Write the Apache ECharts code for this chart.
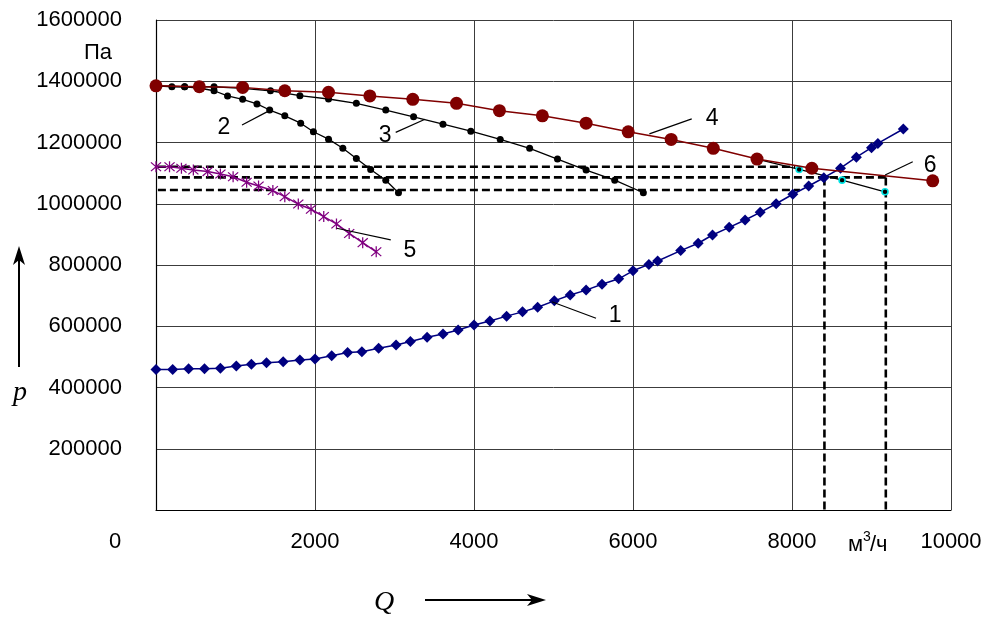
<!DOCTYPE html>
<html><head><meta charset="utf-8">
<script src="https://cdn.jsdelivr.net/npm/echarts@6.0.0/dist/echarts.min.js"></script>
<style>html,body{margin:0;padding:0;background:#fff}#c{width:986px;height:620px}</style>
</head><body><div id="c"></div>
<script>
// ---- data (Q in m3/h, p in Pa) ----
const xTicks = [0, 2000, 4000, 6000, 8000, 10000];
const yTicks = [0, 200000, 400000, 600000, 800000, 1000000, 1200000, 1400000, 1600000];

const Q1 = [0,210,410,610,810,1010,1200,1390,1600,1810,2000,2210,2410,2590,2800,3020,3200,3410,3610,3800,4000,4200,4410,4610,4800,5010,5210,5410,5610,5820,6000,6200,6310,6600,6820,7000,7210,7410,7600,7800,8010,8210,8400,8610,8810,9000,9080,9400];
const P1 = [459,459,461,461,463,470,476,481,484,490,493,504,514,517,528,539,550,564,575,588,604,617,633,647,662,683,702,718,737,755,781,802,813,847,871,898,923,947,972,1000,1031,1058,1085,1116,1152,1183,1197,1244].map(v=>v*1000);

const Q2 = [0,200,360,540,730,900,1090,1270,1430,1620,1820,1980,2170,2350,2520,2700,2890,3050];
const P2 = [1385,1382,1382,1378,1369,1352,1341,1326,1306,1287,1263,1235,1211,1181,1148,1112,1077,1036].map(v=>v*1000);

const Q3 = [0,360,730,1090,1440,1810,2170,2520,2890,3240,3610,3960,4330,4700,5050,5410,5770,6130];
const P3 = [1385,1382,1382,1377,1369,1353,1342,1328,1306,1284,1260,1237,1210,1181,1146,1110,1077,1036].map(v=>v*1000);

const Q4 = [0,545,1090,1620,2170,2690,3230,3780,4320,4860,5410,5940,6480,7010,7560,8250,9770];
const P4 = [1385,1382,1380,1369,1364,1352,1341,1328,1304,1287,1263,1235,1210,1181,1146,1116,1075].map(v=>v*1000);

const Q5 = [0,170,320,470,650,810,970,1140,1290,1470,1620,1790,1950,2110,2270,2430,2600,2770];
const P5 = [1121,1121,1116,1110,1105,1097,1088,1070,1058,1043,1023,999,982,958,934,903,873,843].map(v=>v*1000);

const Q6 = [7560,8090,8630,9170];
const P6 = [1146,1112,1077,1039].map(v=>v*1000);

// operating-point guide lines (dashed)
const guideH = [[24,8040,1121000],[24,9180,1086000],[24,8100,1045000]]; // [Qstart,Qend,p]
const guideV = [[8408,1086000],[9180,1086000]]; // [Q,pTop]

const curveNames = ['1','2','3','4','5','6'];
</script>
<script>
const zip = (a,b)=>a.map((v,i)=>[v,b[i]]);
const chart = echarts.init(document.getElementById('c'), null, {renderer:'canvas'});
const FONT = 'Liberation Sans';
const asterisk = 'path://M9,0H11V20H9Z M2.7,1.3L18.7,17.3L17.3,18.7L1.3,2.7Z M17.3,1.3L18.7,2.7L2.7,18.7L1.3,17.3Z';

const dashed = {type:'line', symbol:'none', silent:true, animation:false,
  lineStyle:{color:'#000', width:2.6, type:[8,4]}, z:1};
const series = [];
guideH.forEach(g=>series.push(Object.assign({}, dashed, {data:[[g[0],g[2]],[g[1],g[2]]]})));
guideV.forEach(g=>series.push(Object.assign({}, dashed, {data:[[g[0],g[1]],[g[0],0]]})));

series.push({name:curveNames[5], type:'line', data:zip(Q6,P6), symbol:'circle', symbolSize:6, z:3,
  lineStyle:{color:'#000', width:1.3}, itemStyle:{color:'#000', borderColor:'#00e5e5', borderWidth:1.6}});
series.push({name:curveNames[0], type:'line', data:zip(Q1,P1), symbol:'diamond', symbolSize:11, z:4,
  lineStyle:{color:'#000080', width:1.5}, itemStyle:{color:'#000080'}});
series.push({name:curveNames[1], type:'line', data:zip(Q2,P2), symbol:'circle', symbolSize:7, z:4,
  lineStyle:{color:'#000', width:1.3}, itemStyle:{color:'#000'}});
series.push({name:curveNames[2], type:'line', data:zip(Q3,P3), symbol:'circle', symbolSize:7, z:4,
  lineStyle:{color:'#000', width:1.3}, itemStyle:{color:'#000'}});
series.push({name:curveNames[4], type:'line', data:zip(Q5,P5), symbol:asterisk, symbolSize:11, z:4,
  lineStyle:{color:'#800080', width:1.5}, itemStyle:{color:'#800080'}});
series.push({name:curveNames[3], type:'line', data:zip(Q4,P4), symbol:'circle', symbolSize:13, z:5,
  lineStyle:{color:'#800000', width:1.5}, itemStyle:{color:'#800000'}});

chart.setOption({
  animation:false,
  backgroundColor:'#fff',
  grid:{left:156, top:20, width:795, height:490, show:false},
  xAxis:{type:'value', min:xTicks[0], max:xTicks[xTicks.length-1], interval:xTicks[1]-xTicks[0],
    axisLine:{lineStyle:{color:'#000', width:1.2}}, axisTick:{show:false},
    splitLine:{lineStyle:{color:'#3c3c3c', width:1}},
    axisLabel:{showMinLabel:false, margin:21, color:'#000', fontFamily:FONT, fontSize:22,
      formatter:v=>String(v)}},
  yAxis:{type:'value', min:yTicks[0], max:yTicks[yTicks.length-1], interval:yTicks[1]-yTicks[0],
    axisLine:{show:true, lineStyle:{color:'#000', width:1.2}}, axisTick:{show:false},
    splitLine:{lineStyle:{color:'#3c3c3c', width:1}},
    axisLabel:{showMinLabel:false, margin:34, color:'#000', fontFamily:FONT, fontSize:22,
      formatter:v=>String(v)}},
  series
});

// annotations (curve numbers with leader lines), in data coordinates
const annos = [
  {t:'1', lab:[5774,633000], a:[4978,680000], b:[5535,626000]},
  {t:'2', lab:[855,1250000], a:[1396,1300000], b:[1082,1257000]},
  {t:'3', lab:[2881,1221000], a:[3384,1276000], b:[3015,1233000]},
  {t:'4', lab:[6994,1277000], a:[6206,1228000], b:[6739,1277000]},
  {t:'5', lab:[3195,846000], a:[2273,920000], b:[2953,882000]},
  {t:'6', lab:[9737,1123000], a:[9171,1094000], b:[9519,1137000]}
];
const px = d=>chart.convertToPixel({gridIndex:0}, d);
const g = [];
annos.forEach(o=>{
  const a=px(o.a), b=px(o.b), l=px(o.lab);
  g.push({type:'line', shape:{x1:a[0],y1:a[1],x2:b[0],y2:b[1]}, style:{stroke:'#000', lineWidth:1.2}, z:10});
  g.push({type:'text', x:l[0], y:l[1], style:{text:o.t, fill:'#000', font:'23px '+FONT, align:'center', verticalAlign:'middle'}, z:10});
});
g.push({type:'text', x:115, y:542, style:{text:'0', fill:'#000', font:'22px '+FONT, align:'center', verticalAlign:'middle'}});
g.push({type:'text', x:98, y:53, style:{text:'Па', fill:'#000', font:'22px '+FONT, align:'center', verticalAlign:'middle'}});
// unit м³/ч
g.push({type:'text', x:848, y:545, style:{text:'м', fill:'#000', font:'22px '+FONT, align:'left', verticalAlign:'middle'}});
g.push({type:'text', x:863, y:537, style:{text:'3', fill:'#000', font:'14px '+FONT, align:'left', verticalAlign:'middle'}});
g.push({type:'text', x:870, y:545, style:{text:'/ч', fill:'#000', font:'22px '+FONT, align:'left', verticalAlign:'middle'}});
g.push({type:'text', x:20, y:393, style:{text:'p', fill:'#000', font:'italic 28px "Liberation Serif"', align:'center', verticalAlign:'middle'}});
g.push({type:'text', x:384, y:603, style:{text:'Q', fill:'#000', font:'italic 28px "Liberation Serif"', align:'center', verticalAlign:'middle'}});
// axis arrows
g.push({type:'line', shape:{x1:19,y1:367,x2:19,y2:252}, style:{stroke:'#000', lineWidth:2}});
g.push({type:'polygon', shape:{points:[[19,246],[13,265],[19,260],[25,265]]}, style:{fill:'#000'}});
g.push({type:'line', shape:{x1:425,y1:600,x2:540,y2:600}, style:{stroke:'#000', lineWidth:2}});
g.push({type:'polygon', shape:{points:[[546,600],[527,594],[532,600],[527,606]]}, style:{fill:'#000'}});
chart.setOption({graphic:g});
</script></body></html>
